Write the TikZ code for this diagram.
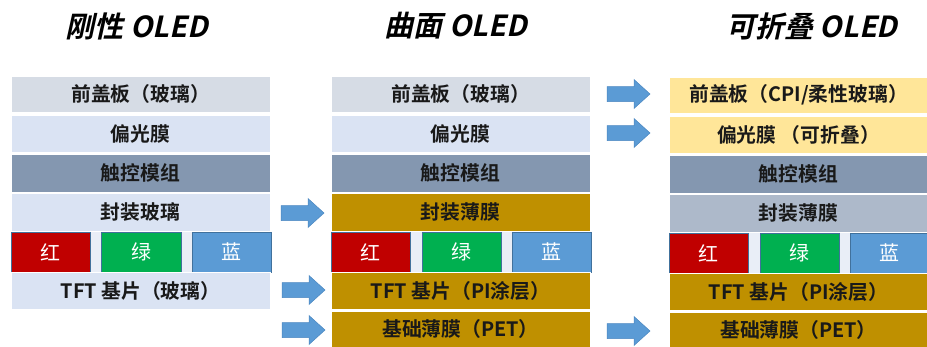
\documentclass[tikz,border=0pt]{standalone}
\usepackage{fontspec}
\setmainfont{Noto Sans CJK SC}[BoldFont={Noto Sans CJK SC Bold}]
\newfontfamily\titlefont{Noto Sans CJK SC Bold}[FakeSlant=0.22]
\definecolor{glass}{HTML}{D6DCE5}
\definecolor{pol}{HTML}{DAE3F3}
\definecolor{touch}{HTML}{8497B0}
\definecolor{gold}{HTML}{BF9000}
\definecolor{cream}{HTML}{FFE699}
\definecolor{encap}{HTML}{ADB9CA}
\definecolor{rgbbg}{HTML}{E9EEF7}
\definecolor{rred}{HTML}{C00000}
\definecolor{ggreen}{HTML}{00B050}
\definecolor{bblue}{HTML}{5B9BD5}
\definecolor{arrowfill}{HTML}{5B9BD5}
\definecolor{arrowline}{HTML}{4A86C0}
\definecolor{pixline}{HTML}{41719C}
\begin{document}
\begin{tikzpicture}[x=1pt,y=-1pt,
  layer/.style={draw=white, line width=1pt, inner sep=0pt, minimum width=259pt,
    text=black!90, font=\bfseries\fontsize{19.8}{20}\selectfont},
  pix/.style={draw=pixline, line width=0.6pt, inner sep=0pt, minimum height=40pt,
    text=white, font=\fontsize{20}{20}\selectfont},
  title/.style={font=\titlefont\fontsize{29}{30}\selectfont, text=black},
  blockarrow/.pic={\path[fill=arrowfill, draw=arrowline, line width=0.5pt]
    (0,-7.5) -- (27,-7.5) -- (27,-14.5) -- (43,0) -- (27,14.5) -- (27,7.5) -- (0,7.5) -- cycle;}
]
\useasboundingbox (0,0) rectangle (927,346);

% titles
\node[title] (t1) at (137,26) {刚性 OLED};
\node[title] (t2) at (456,26) {曲面 OLED};
\node[title] (t3) at (812,27) {可折叠 OLED};

% column 1 : rigid
\node[layer, fill=glass, minimum height=36pt] (a1) at (140.5,94) {前盖板（玻璃）};
\node[layer, fill=pol, minimum height=37pt] (a2) at (140.5,133.5) {偏光膜};
\node[layer, fill=touch, minimum height=38pt] (a3) at (140.5,173) {触控模组};
\node[layer, fill=pol, minimum height=38pt] (a4) at (140.5,212) {封装玻璃};
\node[layer, draw=none, fill=rgbbg, minimum height=41pt] (a5) at (140.5,252) {};
\node[pix, fill=rred, minimum width=79pt] (ar) at (50.5,252) {红};
\node[pix, fill=ggreen, minimum width=80pt] (ag) at (141,252) {绿};
\node[pix, fill=bblue, minimum width=79pt] (ab) at (231.5,252) {蓝};
\node[layer, fill=pol, minimum height=37pt] (a6) at (140.5,291) {TFT 基片（玻璃）};

% column 2 : curved
\node[layer, fill=glass, minimum height=36pt] (b1) at (460.5,94) {前盖板（玻璃）};
\node[layer, fill=pol, minimum height=37pt] (b2) at (460.5,133.5) {偏光膜};
\node[layer, fill=touch, minimum height=38pt] (b3) at (460.5,173) {触控模组};
\node[layer, fill=gold, minimum height=38pt] (b4) at (460.5,212) {封装薄膜};
\node[layer, draw=none, fill=rgbbg, minimum height=41pt] (b5) at (460.5,252) {};
\node[pix, fill=rred, minimum width=79pt] (br) at (370.5,252) {红};
\node[pix, fill=ggreen, minimum width=79pt] (bg) at (461.5,252) {绿};
\node[pix, fill=bblue, minimum width=79pt] (bb) at (551.5,252) {蓝};
\node[layer, fill=gold, minimum height=37pt] (b6) at (460.5,291) {TFT 基片（PI涂层）};
\node[layer, fill=gold, minimum height=36pt] (b7) at (460.5,329) {基础薄膜（PET）};

% column 3 : foldable
\node[layer, fill=cream, minimum height=36pt] (c1) at (798.5,95) {前盖板（CPI/柔性玻璃）};
\node[layer, fill=cream, minimum height=37pt] (c2) at (798.5,134.5) {偏光膜 （可折叠）};
\node[layer, fill=touch, minimum height=38pt] (c3) at (798.5,174) {触控模组};
\node[layer, fill=encap, minimum height=38pt] (c4) at (798.5,213) {封装薄膜};
\node[layer, draw=none, fill=rgbbg, minimum height=41pt] (c5) at (798.5,253) {};
\node[pix, fill=rred, minimum width=79pt] (cr) at (708.5,253) {红};
\node[pix, fill=ggreen, minimum width=79pt] (cg) at (799.5,253) {绿};
\node[pix, fill=bblue, minimum width=78pt] (cb) at (889,253) {蓝};
\node[layer, fill=gold, minimum height=37pt] (c6) at (798.5,292) {TFT 基片（PI涂层）};
\node[layer, fill=gold, minimum height=36pt] (c7) at (798.5,330) {基础薄膜（PET）};

% arrows
\pic (p1) at (281,213) {blockarrow};
\pic (p2) at (282,290) {blockarrow};
\pic (p3) at (282,330) {blockarrow};
\pic (p4) at (607,94) {blockarrow};
\pic (p5) at (607,133) {blockarrow};
\pic (p6) at (607,331) {blockarrow};
\end{tikzpicture}
\end{document}
